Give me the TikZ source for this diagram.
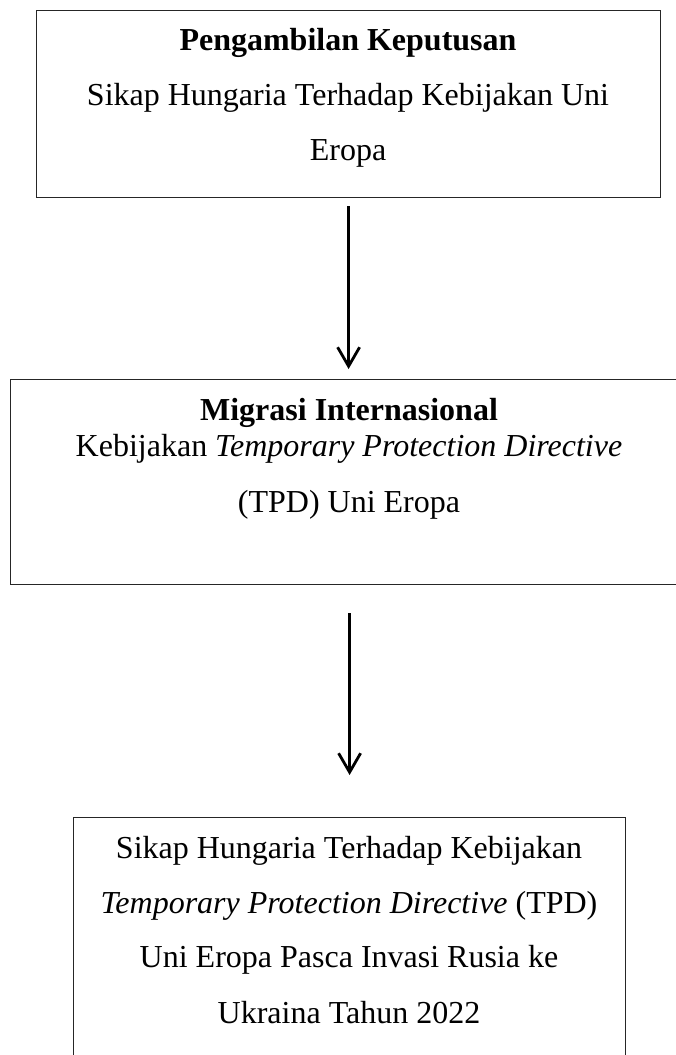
\documentclass[tikz,border=0pt]{standalone}
\usepackage{fontspec}
\setmainfont{Liberation Serif}
\usetikzlibrary{arrows.meta}
\begin{document}
\begin{tikzpicture}[x=1pt,y=-1pt,
  box/.style={draw=black!85, line width=1.2pt, inner sep=0pt, anchor=north west},
  txt/.style={anchor=base, inner sep=0pt, font=\fontsize{32}{37}\selectfont},
  btxt/.style={txt, font=\fontsize{32}{37}\selectfont\bfseries},
  arr/.style={line width=2.8pt, -{Straight Barb[length=19pt,width=22pt,line width=2.8pt]}}
]
\useasboundingbox (0,0) rectangle (676,1055);
% boxes
\node[box, minimum width=624pt, minimum height=187pt] (b1) at (36,10) {};
\node[box, minimum width=700pt, minimum height=205pt] (b2) at (9.5,379) {};
\node[box, minimum width=552pt, minimum height=280pt] (b3) at (73,817) {};
% texts box 1
\node[btxt] (t11) at (348,50) {Pengambilan Keputusan};
\node[txt] (t12) at (348,105) {Sikap Hungaria Terhadap Kebijakan Uni};
\node[txt] (t13) at (348,160) {Eropa};
% texts box 2
\node[btxt] (t21) at (349,420) {Migrasi Internasional};
\node[txt] (t22) at (349,456) {Kebijakan \textit{Temporary Protection Directive}};
\node[txt] (t23) at (349,512) {(TPD) Uni Eropa};
% texts box 3
\node[txt] (t31) at (349,858) {Sikap Hungaria Terhadap Kebijakan};
\node[txt] (t32) at (349,913) {\textit{Temporary Protection Directive} (TPD)};
\node[txt] (t33) at (349,967) {Uni Eropa Pasca Invasi Rusia ke};
\node[txt] (t34) at (349,1023) {Ukraina Tahun 2022};
% arrows
\draw[arr, shorten <=8pt, shorten >=10pt] (b1.south) -- (b1.south |- b2.north);
\draw[arr, shorten <=28pt, shorten >=42pt] (b2.south -| b3.north) -- (b3.north);
\end{tikzpicture}
\end{document}
